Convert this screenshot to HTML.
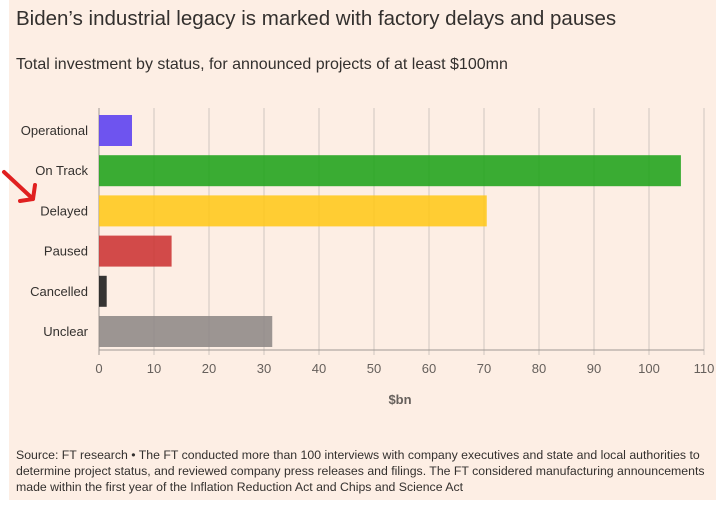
<!DOCTYPE html>
<html><head><meta charset="utf-8"><style>
body{margin:0;width:723px;height:505px;background:#fff;font-family:"Liberation Sans",sans-serif;overflow:hidden}
#bg{position:absolute;left:9px;top:0;width:707px;height:500px;background:#fdeee4}
</style></head><body>
<div id="bg"></div>
<svg width="723" height="505" style="position:absolute;left:0;top:0">
<text x="16" y="25" font-size="20.5" fill="#33302e">Biden’s industrial legacy is marked with factory delays and pauses</text>
<text x="16" y="69" font-size="16" fill="#33302e">Total investment by status, for announced projects of at least $100mn</text>
<g id="grid"></g><g id="bars"></g><g id="labels"></g><g id="ticks"></g>
<text x="400" y="404" font-size="13" font-weight="bold" fill="#66605c" text-anchor="middle">$bn</text>
<path d="M4,172 L33,199 M33,199 L20,201 M33,199 L35,185" stroke="#e02020" stroke-width="4" fill="none" stroke-linecap="round" stroke-linejoin="round"/>
<text font-size="12.3" fill="#33302e">
<tspan x="16" y="459">Source: FT research • The FT conducted more than 100 interviews with company executives and state and local authorities to</tspan>
<tspan x="16" y="475">determine project status, and reviewed company press releases and filings. The FT considered manufacturing announcements</tspan>
<tspan x="16" y="491">made within the first year of the Inflation Reduction Act and Chips and Science Act</tspan>
</text>
</svg>
<script>
const categories=["Operational","On Track","Delayed","Paused","Cancelled","Unclear"];
const values=[6,105.8,70.5,13.2,1.4,31.5];
const colors=["#5a3ff0","#1fa31a","#ffc81a","#cc3333","#1a1a1a","#8e8986"];
const tickValues=[0,10,20,30,40,50,60,70,80,90,100,110];
const NS="http://www.w3.org/2000/svg";
const x=v=>99+v*5.5;
const y=i=>115+i*40.2;
function mk(t,a,p){const e=document.createElementNS(NS,t);for(const k in a)e.setAttribute(k,a[k]);document.getElementById(p).appendChild(e);return e;}
tickValues.forEach(v=>{
 const g=mk("line",{x1:x(v),x2:x(v),y1:108,y2:355,stroke:v===0?"#9e9893":"#cfc6bf","stroke-width":1},"grid");
 
 
 const t=mk("text",{x:x(v),y:373,"font-size":13,fill:"#66605c","text-anchor":"middle"},"ticks");
 t.textContent=v;
 
 
});
const ax=mk("line",{x1:99,x2:704,y1:350,y2:350,stroke:"#9e9893"},"grid");


categories.forEach((c,i)=>{
 const r=mk("rect",{x:x(0),y:y(i),width:x(values[i])-x(0),height:31,fill:colors[i],"fill-opacity":0.88},"bars");
 
 
 const t=mk("text",{x:88,y:y(i)+20,"font-size":13,fill:"#33302e","text-anchor":"end"},"labels");
 t.textContent=c;
 
 
});
</script>
</body></html>
